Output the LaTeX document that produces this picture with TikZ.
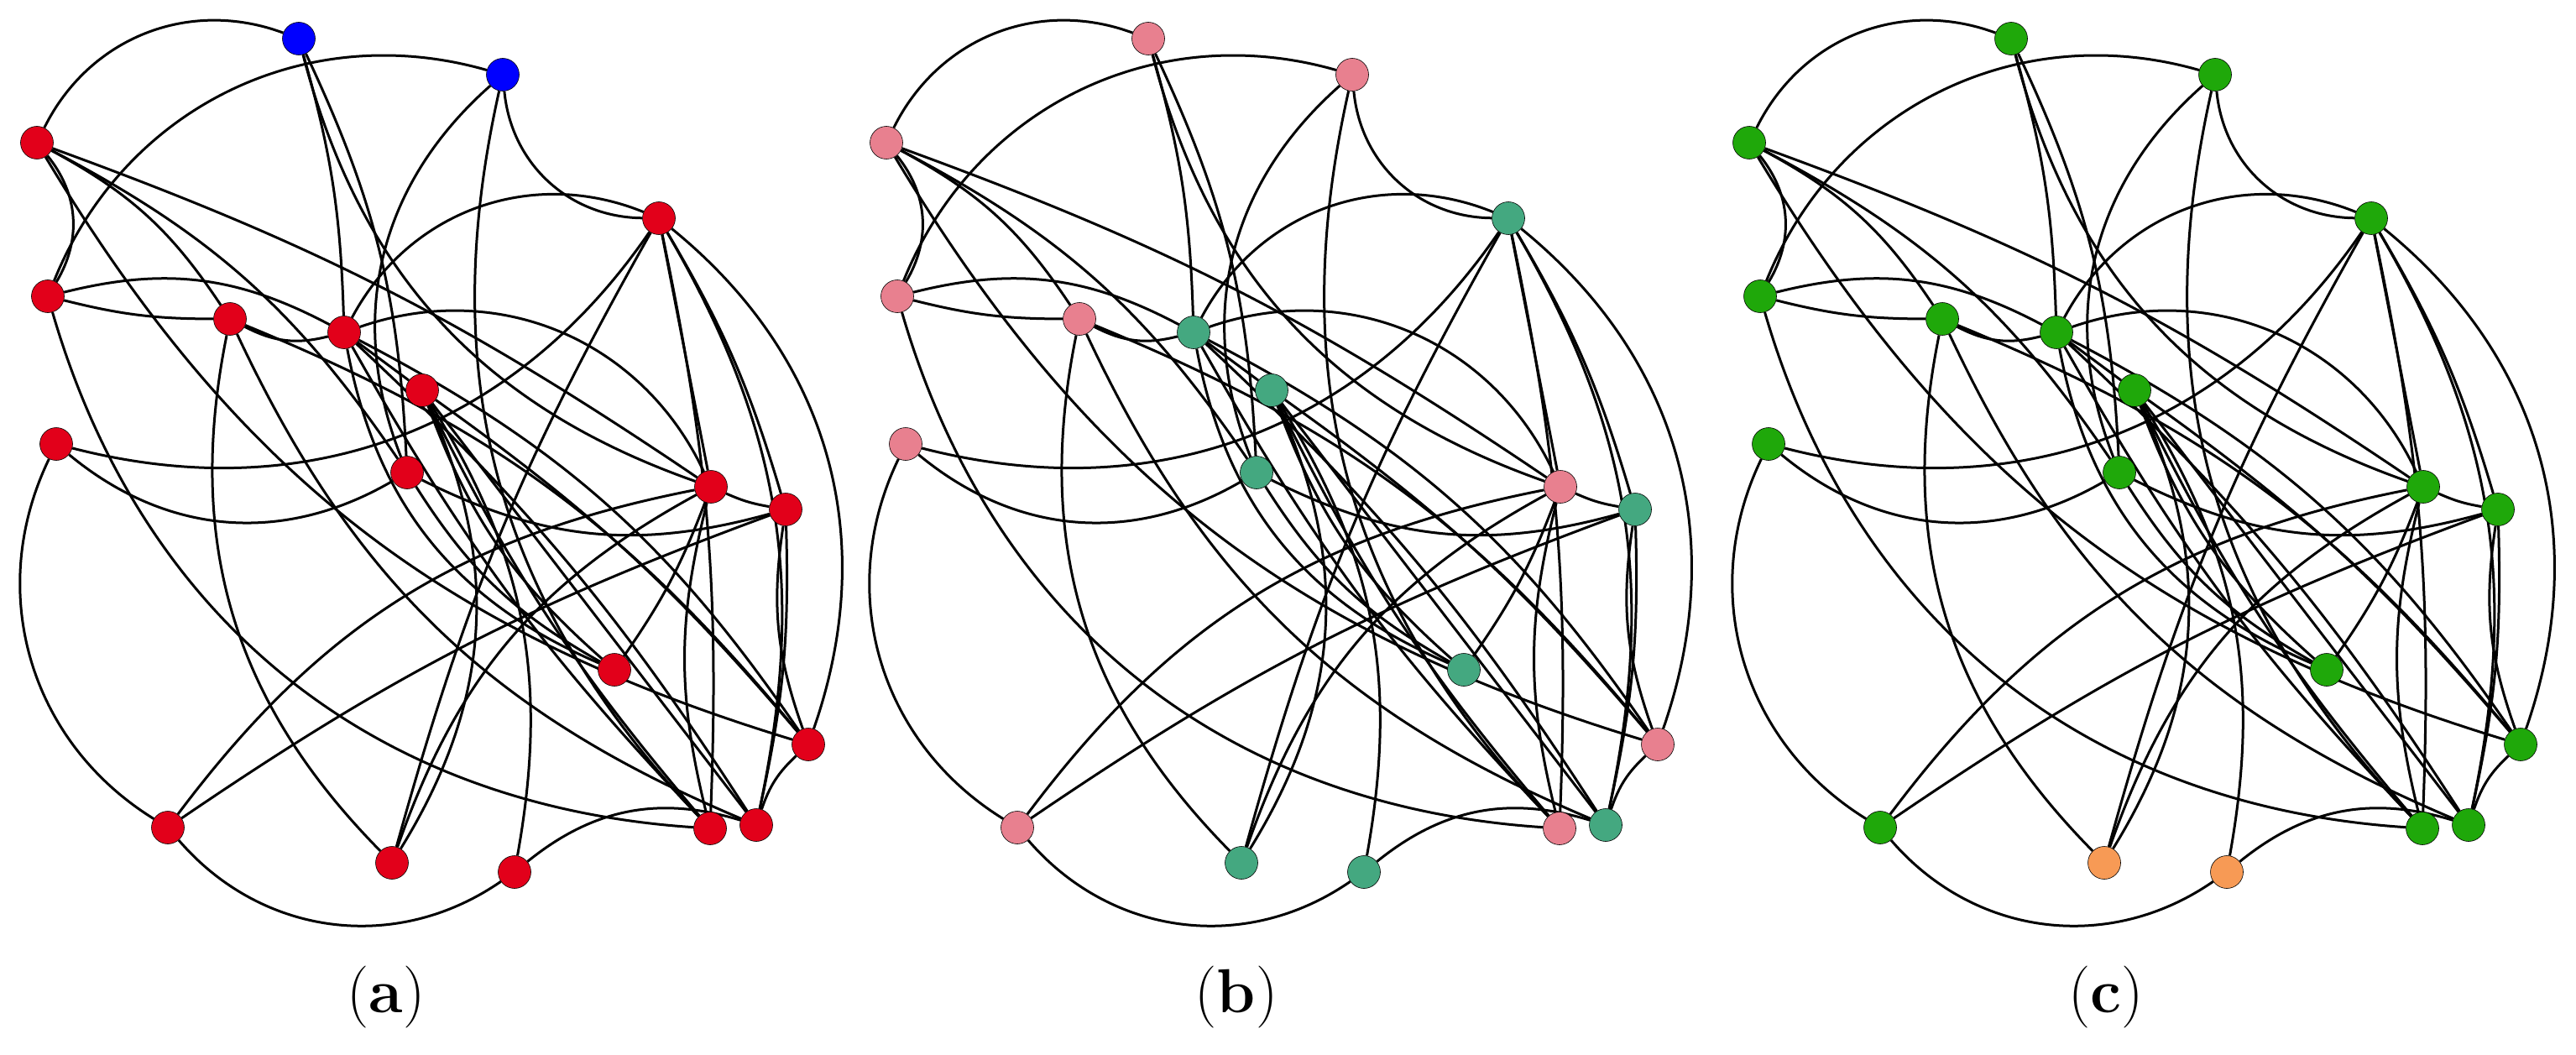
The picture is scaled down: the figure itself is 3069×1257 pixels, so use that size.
\documentclass[tikz,border=0pt]{standalone}
\usetikzlibrary{backgrounds}
\definecolor{cred}{HTML}{E2001A}
\definecolor{cblue}{HTML}{0000FF}
\definecolor{cpink}{HTML}{E8808F}
\definecolor{cteal}{HTML}{44A880}
\definecolor{cgreen}{HTML}{1FA80A}
\definecolor{corange}{HTML}{F79A55}
\tikzset{
  nd/.style={circle,draw=black,line width=0.6pt,minimum size=39pt,inner sep=0pt},
  ed/.style={line width=3pt,black},
  lab/.style={font=\fontsize{74}{78}\selectfont}
}
\newcommand\mygraph[2]{%
\begin{scope}[xshift=#2]
\node[nd,cX] (#1A) at (356,-46) {};
\node[nd,cX] (#1B) at (599,-89) {};
\node[nd,cY] (#1C) at (44,-170) {};
\node[nd,cZ] (#1D) at (785,-260) {};
\node[nd,cY] (#1E) at (57,-353) {};
\node[nd,cY] (#1F) at (274,-380) {};
\node[nd,cZ] (#1G) at (410,-396) {};
\node[nd,cZ] (#1H) at (503,-465) {};
\node[nd,cY] (#1I) at (67,-529) {};
\node[nd,cZ] (#1J) at (485,-563) {};
\node[nd,cY] (#1K) at (847,-580) {};
\node[nd,cZ] (#1L) at (936,-607) {};
\node[nd,cZ] (#1M) at (732,-798) {};
\node[nd,cY] (#1N) at (963,-887) {};
\node[nd,cY] (#1O) at (200,-986) {};
\node[nd,cY] (#1P) at (846,-987) {};
\node[nd,cZ] (#1Q) at (901,-983) {};
\node[nd,cW] (#1R) at (467,-1028) {};
\node[nd,cW] (#1S) at (613,-1039) {};
\begin{pgfonlayer}{background}
\foreach \u/\v/\b [evaluate=\b as \bb using 1.4*\b] in {A/C/-30,B/E/-30,B/D/-30,A/G/5,A/J/8,A/K/-20,B/J/-25,B/P/-20,
 C/E/25,C/F/10,C/J/10,C/N/-15,C/K/5,E/G/15,E/F/-5,E/P/-25,F/G/-15,F/R/-20,F/Q/-15,
 F/N/10,G/D/30,G/K/30,G/H/0,G/M/-20,G/N/10,G/Q/5,G/P/-5,I/D/-25,I/J/-25,I/O/-30,
 O/S/-30,O/K/15,O/L/5,R/K/15,R/H/-20,S/H/-15,S/Q/20,D/L/5,D/N/25,D/Q/15,D/P/5,
 D/K/0,D/R/-5,J/L/-15,J/M/-10,K/M/5,K/P/-10,K/L/-5,L/N/-10,L/Q/5,N/Q/-10,H/M/-10,
 H/P/-5,H/Q/0,H/N/5}
  \draw[ed] (#1\u) to[bend left=\bb] (#1\v);
\end{pgfonlayer}
\end{scope}}
\begin{document}
\begin{tikzpicture}[x=1pt,y=1pt]
\useasboundingbox (0,0) rectangle (3069,-1257);
\begin{scope}
\tikzset{cX/.style={fill=cblue},cY/.style={fill=cred},cZ/.style={fill=cred},cW/.style={fill=cred}}
\mygraph{a}{0pt}
\end{scope}
\begin{scope}
\tikzset{cX/.style={fill=cpink},cY/.style={fill=cpink},cZ/.style={fill=cteal},cW/.style={fill=cteal}}
\mygraph{b}{1012pt}
\end{scope}
\begin{scope}
\tikzset{cX/.style={fill=cgreen},cY/.style={fill=cgreen},cZ/.style={fill=cgreen},cW/.style={fill=corange}}
\mygraph{c}{2040pt}
\end{scope}
\node[lab] (la) at (460,-1188) {(\textbf{a})};
\node[lab] (lb) at (1473,-1188) {(\textbf{b})};
\node[lab] (lc) at (2509,-1188) {(\textbf{c})};
\end{tikzpicture}
\end{document}
